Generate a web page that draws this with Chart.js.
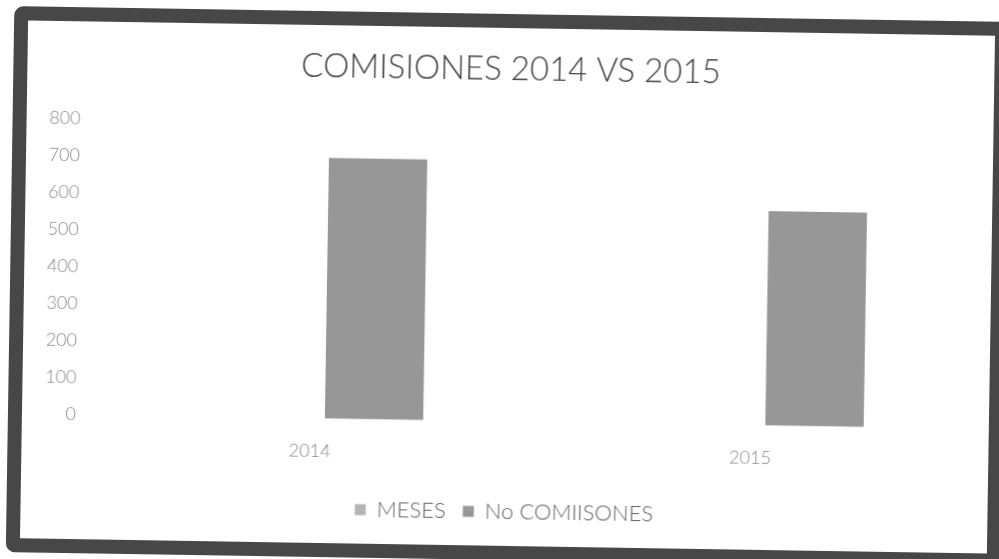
<!DOCTYPE html>
<html lang="es">
<head>
  <meta charset="UTF-8" />
  <title>COMISIONES 2014 VS 2015</title>
  <script src="https://cdn.jsdelivr.net/npm/chart.js"></script>
  <style>
    html, body { margin: 0; padding: 0; background: #fff; overflow: hidden; }
    body { width: 999px; height: 559px; position: relative; }
    .frame {
      position: absolute; left: 10px; top: 14px;
      width: 967px; height: 518px;
      border: 14px solid #474747; border-radius: 9px;
      background: #fff;
      transform: rotate(0.9deg);
    }
    .frame canvas { display: block; }
  </style>
</head>
<body>
  <div class="frame">
    <canvas id="chart" width="967" height="518"></canvas>
  </div>

  <script>
    const categories = ['2014', '2015'];
    const meses = [0, 0];
    const noComisiones = [705, 580];
    const yTicks = [0, 100, 200, 300, 400, 500, 600, 700, 800];

    const FONT = "Lato, 'Open Sans', sans-serif";

    new Chart(document.getElementById('chart'), {
      type: 'bar',
      data: {
        labels: categories,
        datasets: [
          { label: 'MESES', data: meses, backgroundColor: '#b4b4b4' },
          { label: 'No COMIISONES', data: noComisiones, backgroundColor: '#979797' }
        ]
      },
      options: {
        responsive: false,
        animation: false,
        datasets: { bar: { categoryPercentage: 0.58, barPercentage: 0.77 } },
        layout: { padding: { left: 18, right: 18, top: 10, bottom: 13 } },
        plugins: {
          title: {
            display: true,
            text: 'COMISIONES 2014 VS 2015',
            color: '#444',
            font: { family: FONT, size: 33, weight: 300 },
            padding: { top: 12, bottom: 36 }
          },
          legend: {
            position: 'bottom',
            labels: {
              color: '#666',
              font: { family: FONT, size: 22, weight: 300 },
              boxWidth: 11, boxHeight: 11,
              padding: 17
            }
          },
          tooltip: { enabled: false }
        },
        scales: {
          x: {
            afterFit: (axis) => { axis.height += 5; },
            grid: { display: false },
            border: { display: false },
            ticks: { color: '#888', font: { family: FONT, size: 18, weight: 300 }, padding: 14 }
          },
          y: {
            min: 0, max: 800,
            afterBuildTicks: (axis) => { axis.ticks = yTicks.map(v => ({ value: v })); },
            afterFit: (axis) => { axis.width = 50; },
            grid: { display: false },
            border: { display: false },
            ticks: { color: '#888', font: { family: FONT, size: 18, weight: 300 }, padding: 6 }
          }
        }
      }
    });
  </script>
</body>
</html>
